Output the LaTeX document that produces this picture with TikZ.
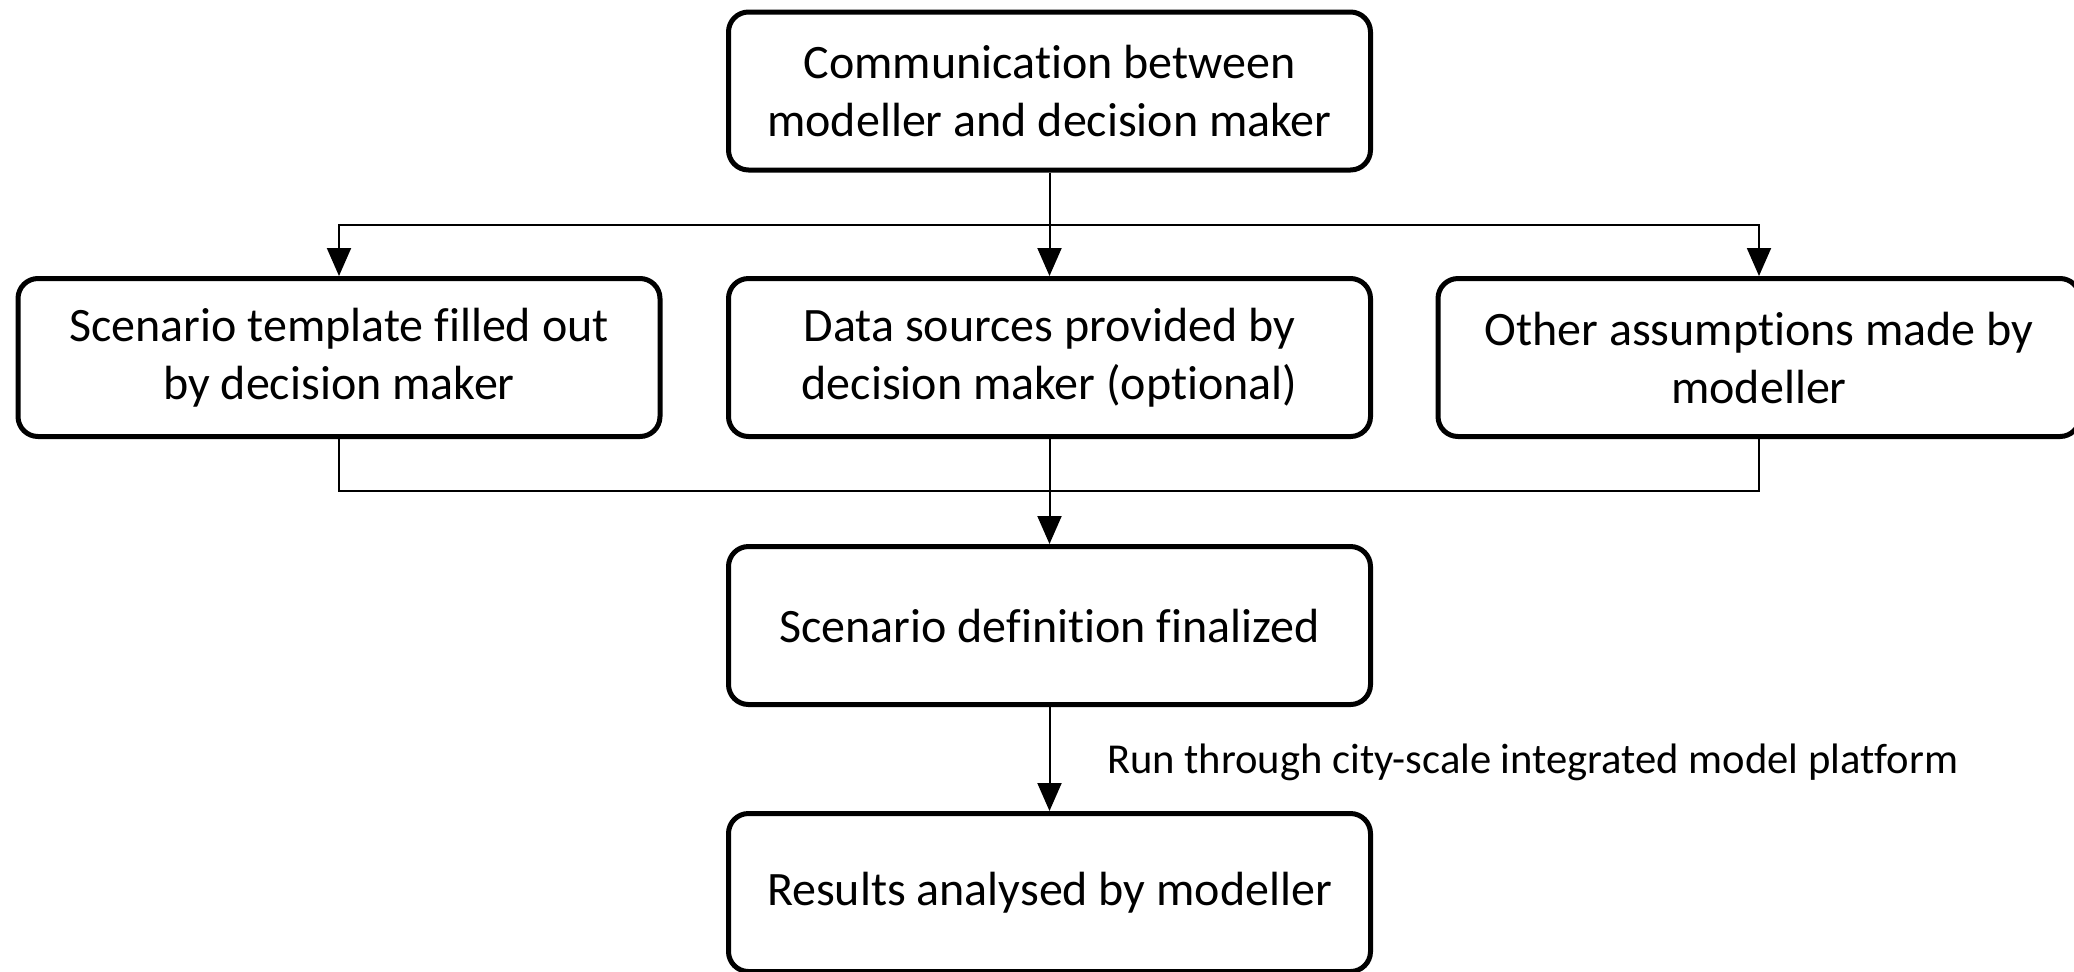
\documentclass[tikz,border=0pt]{standalone}
\usepackage{fontspec}
\setmainfont{Carlito}[Ligatures=NoCommon]
\usetikzlibrary{arrows.meta}

\begin{document}
\begin{tikzpicture}[
        x=0.5pt, y=-0.5pt,
        >={Triangle[length=14pt,width=12pt]},
        box/.style={
            rectangle,
            rounded corners=10pt,
            draw=black,
            line width=2.5pt,
            minimum width=321pt,
            minimum height=79pt,
            align=center,
            font=\fontsize{24}{29}\selectfont
        },
        link/.style={
            line width=1pt,
            draw=black
        }
    ]

    \useasboundingbox (0,0) rectangle (2074,971);

    \node[box] (comm) at (1049.5, 91) {Communication between\\modeller and decision maker};

    \node[box] (tmpl) at (339, 357.5) {Scenario template filled out\\by decision maker};
    \node[box] (data) at (1049.5, 357.5) {Data sources provided by\\decision maker (optional)};
    \node[box] (other) at (1759, 357.5) {Other assumptions made by\\modeller};

    \node[box] (scen) at (1049.5, 625.5) {Scenario definition finalized};
    \node[box] (res) at (1049.5, 892.5) {Results analysed by modeller};

    \coordinate (split) at (1049.5, 225);
    \coordinate (merge) at (1049.5, 491);

    \draw[link] (comm.south) -- (split);
    \draw[link, ->] (split) -| (tmpl.north);
    \draw[link, ->] (split) -- (data.north);
    \draw[link, ->] (split) -| (other.north);

    \draw[link] (tmpl.south) |- (merge);
    \draw[link] (other.south) |- (merge);
    \draw[link, ->] (data.south) -- (scen.north);

    \draw[link, ->] (scen.south) -- (res.north);
    \node[anchor=west, font=\fontsize{21.3}{25}\selectfont] (run) at (1100, 762) {Run through city-scale integrated model platform};

\end{tikzpicture}
\end{document}
